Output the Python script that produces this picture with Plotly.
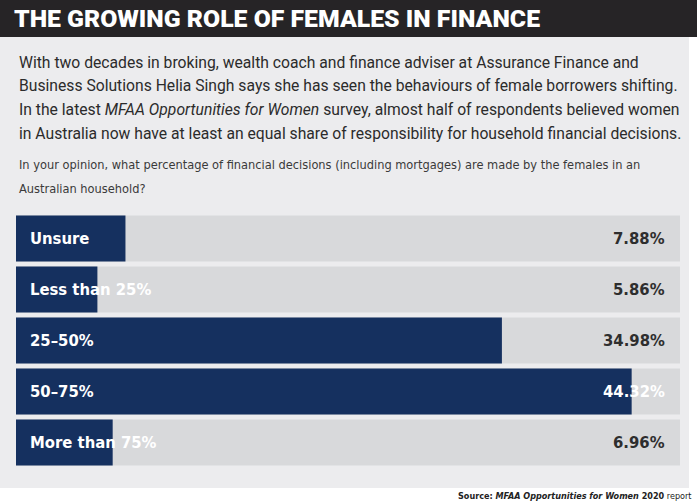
import plotly.graph_objects as go

categories = ["Unsure", "Less than 25%", "25–50%", "50–75%", "More than 75%"]
values = [7.88, 5.86, 34.98, 44.32, 6.96]
value_labels = ["7.88%", "5.86%", "34.98%", "44.32%", "6.96%"]
track_max = 47.8

title = "THE GROWING ROLE OF FEMALES IN FINANCE"
intro_lines = [
    "With two decades in broking, wealth coach and finance adviser at Assurance Finance and",
    "Business Solutions Helia Singh says she has seen the behaviours of female borrowers shifting.",
    "In the latest <i>MFAA Opportunities for Women</i> survey, almost half of respondents believed women",
    "in Australia now have at least an equal share of responsibility for household financial decisions.",
]
question_lines = [
    "In your opinion, what percentage of financial decisions (including mortgages) are made by the females in an",
    "Australian household?",
]
source = "<b>Source: <i>MFAA Opportunities for Women</i> 2020</b> report"

W, H = 697, 504
NAVY = "#15305f"
TRACK = "#d8d9db"
PANEL = "#ececee"
HEADER = "#262426"
COND = "DejaVu Sans Condensed"

def py(px):
    return 1 - px / H

fig = go.Figure()
fig.add_trace(go.Bar(
    y=categories, x=[track_max] * len(categories), orientation="h",
    marker=dict(color=TRACK, line=dict(width=0)), hoverinfo="skip", showlegend=False,
))
fig.add_trace(go.Bar(
    y=categories, x=values, orientation="h",
    marker=dict(color=NAVY, line=dict(width=0)), showlegend=False,
))

shapes = [
    dict(type="rect", xref="paper", yref="paper", x0=0, x1=689 / W, y0=py(488), y1=py(37),
         fillcolor=PANEL, line=dict(width=0), layer="below"),
    dict(type="rect", xref="paper", yref="paper", x0=0, x1=1, y0=py(37), y1=1,
         fillcolor=HEADER, line=dict(width=0), layer="below"),
]

ann = []
ann.append(dict(text=title, xref="paper", yref="paper", x=12 / W, y=py(19), xanchor="left",
                yanchor="middle", showarrow=False,
                font=dict(family="Roboto", size=24.8, color="white", weight=900)))
for i, line in enumerate(intro_lines):
    ann.append(dict(text=line, xref="paper", yref="paper", x=17 / W, y=py(62 + i * 23.7),
                    xanchor="left", yanchor="middle", showarrow=False,
                    font=dict(family="Roboto", size=15.7, color="#2b2b2b")))
for i, line in enumerate(question_lines):
    ann.append(dict(text=line, xref="paper", yref="paper", x=17 / W, y=py(165 + i * 23),
                    xanchor="left", yanchor="middle", showarrow=False,
                    font=dict(family=COND, size=12.7, color="#3a3a3a")))
for c, v, lab in zip(categories, values, value_labels):
    ann.append(dict(text=c, xref="x", yref="y", x=0, y=c, xanchor="left", yanchor="middle",
                    xshift=12, showarrow=False,
                    font=dict(family=COND, size=16.5, color="white", weight="bold")))
    col = "white" if v > track_max - 4 else "#2e2e2e"
    ann.append(dict(text=lab, xref="x", yref="y", x=track_max, y=c, xanchor="right",
                    yanchor="middle", xshift=-13, showarrow=False,
                    font=dict(family=COND, size=16.5, color=col, weight="bold")))
ann.append(dict(text=source, xref="paper", yref="paper", x=694 / W, y=py(496), xanchor="right",
                yanchor="middle", showarrow=False,
                font=dict(family=COND, size=9, color="#222")))

fig.update_layout(
    width=W, height=H, margin=dict(l=0, r=0, t=0, b=0),
    paper_bgcolor="white", plot_bgcolor="rgba(0,0,0,0)",
    barmode="overlay", bargap=0.1,
    xaxis=dict(domain=[16 / W, 680 / W], range=[0, track_max], visible=False, fixedrange=True),
    yaxis=dict(domain=[py(468), py(213)], autorange="reversed", visible=False,
               categoryorder="array", categoryarray=categories, fixedrange=True),
    shapes=shapes, annotations=ann,
)
fig.write_html("out.html", config={"displayModeBar": False},
               post_script="document.body.style.margin='0';")
